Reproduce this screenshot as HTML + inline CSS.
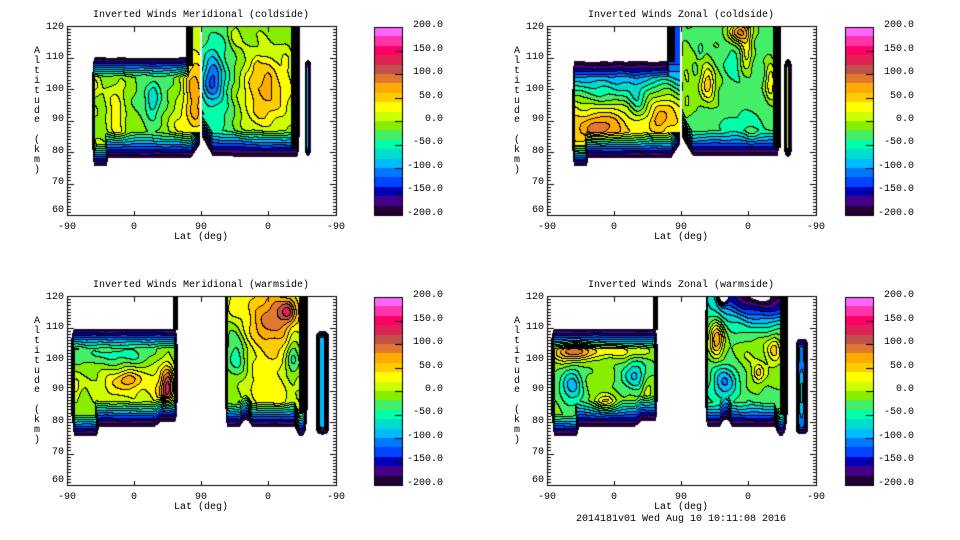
<!DOCTYPE html>
<html><head><meta charset="utf-8">
<style>
body{margin:0;background:#fff;}
#wrap{position:relative;width:960px;height:540px;overflow:hidden;background:#fff;font-family:"Liberation Mono","DejaVu Sans Mono",monospace;font-size:10px;color:#000;}
canvas{position:absolute;left:0;top:0;}
.t{position:absolute;line-height:10px;white-space:pre;}
.c{width:300px;text-align:center;}
.r{width:60px;text-align:right;}
.x{width:40px;text-align:center;}
.yl{position:absolute;width:10px;text-align:center;line-height:9.92px;}
</style></head><body><div id="wrap"><canvas id="cv" width="960" height="540"></canvas>

<!-- TL -->
<div class="t c" style="left:51px;top:11px">Inverted Winds Meridional (coldside)</div>
<div class="t r" style="left:4px;top:23px">120</div>
<div class="t r" style="left:4px;top:53px">110</div>
<div class="t r" style="left:4px;top:85px">100</div>
<div class="t r" style="left:4px;top:115px">90</div>
<div class="t r" style="left:4px;top:147px">80</div>
<div class="t r" style="left:4px;top:178px">70</div>
<div class="t r" style="left:4px;top:206px">60</div>
<div class="t x" style="left:47px;top:223px">-90</div>
<div class="t x" style="left:114px;top:223px">0</div>
<div class="t x" style="left:181px;top:223px">90</div>
<div class="t x" style="left:248px;top:223px">0</div>
<div class="t x" style="left:316px;top:223px">-90</div>
<div class="t c" style="left:51px;top:233px">Lat (deg)</div>
<div class="yl" style="left:32px;top:47px">A<br>l<br>t<br>i<br>t<br>u<br>d<br>e<br>&nbsp;<br>(<br>k<br>m<br>)</div>
<div class="t r" style="left:383px;top:21px">200.0</div>
<div class="t r" style="left:383px;top:45px">150.0</div>
<div class="t r" style="left:383px;top:68px">100.0</div>
<div class="t r" style="left:383px;top:92px">50.0</div>
<div class="t r" style="left:383px;top:115px">0.0</div>
<div class="t r" style="left:383px;top:138px">-50.0</div>
<div class="t r" style="left:383px;top:162px">-100.0</div>
<div class="t r" style="left:383px;top:185px">-150.0</div>
<div class="t r" style="left:383px;top:209px">-200.0</div>

<!-- TR -->
<div class="t c" style="left:531px;top:11px">Inverted Winds Zonal (coldside)</div>
<div class="t r" style="left:484px;top:23px">120</div>
<div class="t r" style="left:484px;top:53px">110</div>
<div class="t r" style="left:484px;top:85px">100</div>
<div class="t r" style="left:484px;top:115px">90</div>
<div class="t r" style="left:484px;top:147px">80</div>
<div class="t r" style="left:484px;top:178px">70</div>
<div class="t r" style="left:484px;top:206px">60</div>
<div class="t x" style="left:527px;top:223px">-90</div>
<div class="t x" style="left:594px;top:223px">0</div>
<div class="t x" style="left:661px;top:223px">90</div>
<div class="t x" style="left:728px;top:223px">0</div>
<div class="t x" style="left:796px;top:223px">-90</div>
<div class="t c" style="left:531px;top:233px">Lat (deg)</div>
<div class="yl" style="left:512px;top:47px">A<br>l<br>t<br>i<br>t<br>u<br>d<br>e<br>&nbsp;<br>(<br>k<br>m<br>)</div>
<div class="t r" style="left:854px;top:21px">200.0</div>
<div class="t r" style="left:854px;top:45px">150.0</div>
<div class="t r" style="left:854px;top:68px">100.0</div>
<div class="t r" style="left:854px;top:92px">50.0</div>
<div class="t r" style="left:854px;top:115px">0.0</div>
<div class="t r" style="left:854px;top:138px">-50.0</div>
<div class="t r" style="left:854px;top:162px">-100.0</div>
<div class="t r" style="left:854px;top:185px">-150.0</div>
<div class="t r" style="left:854px;top:209px">-200.0</div>

<!-- BL -->
<div class="t c" style="left:51px;top:281px">Inverted Winds Meridional (warmside)</div>
<div class="t r" style="left:4px;top:293px">120</div>
<div class="t r" style="left:4px;top:323px">110</div>
<div class="t r" style="left:4px;top:355px">100</div>
<div class="t r" style="left:4px;top:385px">90</div>
<div class="t r" style="left:4px;top:417px">80</div>
<div class="t r" style="left:4px;top:448px">70</div>
<div class="t r" style="left:4px;top:476px">60</div>
<div class="t x" style="left:47px;top:493px">-90</div>
<div class="t x" style="left:114px;top:493px">0</div>
<div class="t x" style="left:181px;top:493px">90</div>
<div class="t x" style="left:248px;top:493px">0</div>
<div class="t x" style="left:316px;top:493px">-90</div>
<div class="t c" style="left:51px;top:503px">Lat (deg)</div>
<div class="yl" style="left:32px;top:317px">A<br>l<br>t<br>i<br>t<br>u<br>d<br>e<br>&nbsp;<br>(<br>k<br>m<br>)</div>
<div class="t r" style="left:383px;top:291px">200.0</div>
<div class="t r" style="left:383px;top:315px">150.0</div>
<div class="t r" style="left:383px;top:338px">100.0</div>
<div class="t r" style="left:383px;top:362px">50.0</div>
<div class="t r" style="left:383px;top:385px">0.0</div>
<div class="t r" style="left:383px;top:408px">-50.0</div>
<div class="t r" style="left:383px;top:432px">-100.0</div>
<div class="t r" style="left:383px;top:455px">-150.0</div>
<div class="t r" style="left:383px;top:479px">-200.0</div>

<!-- BR -->
<div class="t c" style="left:531px;top:281px">Inverted Winds Zonal (warmside)</div>
<div class="t r" style="left:484px;top:293px">120</div>
<div class="t r" style="left:484px;top:323px">110</div>
<div class="t r" style="left:484px;top:355px">100</div>
<div class="t r" style="left:484px;top:385px">90</div>
<div class="t r" style="left:484px;top:417px">80</div>
<div class="t r" style="left:484px;top:448px">70</div>
<div class="t r" style="left:484px;top:476px">60</div>
<div class="t x" style="left:527px;top:493px">-90</div>
<div class="t x" style="left:594px;top:493px">0</div>
<div class="t x" style="left:661px;top:493px">90</div>
<div class="t x" style="left:728px;top:493px">0</div>
<div class="t x" style="left:796px;top:493px">-90</div>
<div class="t c" style="left:531px;top:503px">Lat (deg)</div>
<div class="yl" style="left:512px;top:317px">A<br>l<br>t<br>i<br>t<br>u<br>d<br>e<br>&nbsp;<br>(<br>k<br>m<br>)</div>
<div class="t r" style="left:854px;top:291px">200.0</div>
<div class="t r" style="left:854px;top:315px">150.0</div>
<div class="t r" style="left:854px;top:338px">100.0</div>
<div class="t r" style="left:854px;top:362px">50.0</div>
<div class="t r" style="left:854px;top:385px">0.0</div>
<div class="t r" style="left:854px;top:408px">-50.0</div>
<div class="t r" style="left:854px;top:432px">-100.0</div>
<div class="t r" style="left:854px;top:455px">-150.0</div>
<div class="t r" style="left:854px;top:479px">-200.0</div>

<div class="t c" style="left:531px;top:515px">2014181v01 Wed Aug 10 10:11:08 2016</div>
</div>
<script>
(function(){
const cv=document.getElementById('cv');const ctx=cv.getContext('2d');
ctx.fillStyle='#fff';ctx.fillRect(0,0,960,540);
const COL=[[255,102,255],[255,51,170],[255,0,102],[221,34,85],[192,80,74],[224,120,48],[255,170,0],[255,204,0],[255,255,0],[204,255,0],[136,238,0],[68,238,102],[0,255,170],[0,221,204],[0,187,255],[0,119,255],[0,68,255],[0,0,187],[68,0,136],[34,0,51]];
function G(p,a,cx,ca,sx,sa,A){const dx=(p-cx)/sx,da=(a-ca)/sa;return A*Math.exp(-0.5*(dx*dx+da*da));}
function bump(p,c,w){const t=(p-c)/w;return Math.max(0,1-t*t);}
function N(p,a,s){return 0.5*(7*Math.sin(0.2*p+0.7*a+s)+6*Math.sin(0.11*p-0.5*a+1.3+s)+4*Math.sin(0.3*p+0.25*a+2.1+s*0.5));}

function fTL(p,a){let v;
 if(p<134){v=-6;
  v+=G(p,a,50,92,6,6,42);
  v+=G(p,a,28,101,4,2.5,35);
  v+=G(p,a,88,97,16,8,-32);
  v+=G(p,a,86,96,4,3.5,-45);
  v+=G(p,a,128,98,8,10,80);
  v+=G(p,a,108,90,8,4,30);
  v+=G(p,a,15,88,8,4,10);
 }else{v=-15;
  v+=G(p,a,145,103,7,5,-70);
  v+=G(p,a,150,102,14,14,-45);
  v+=G(p,a,198,99,18,9,78);
  v+=G(p,a,190,107,3,2,25);
  v+=G(p,a,201,102,3,2,25);
  v+=G(p,a,168,117,5,3,35);
  v+=G(p,a,185,83,40,2.5,-15);
  v+=G(p,a,220,105,4,8,15);
 }return v+N(p,a,0);}

function prof(a){const P=[[130,-130],[108,-130],[104,-100],[100,-60],[97,-35],[94,-5],[90,15],[86,20],[70,0]];
 for(let i=0;i<P.length-1;i++){if(a<=P[i][0]&&a>=P[i+1][0]){const t=(a-P[i+1][0])/(P[i][0]-P[i+1][0]);return P[i+1][1]+t*(P[i][1]-P[i+1][1]);}}
 return a>130?-130:0;}
function fTR(p,a){let v;
 if(p<134){v=prof(a);
  v+=G(p,a,55,88,22,4.5,55);
  v+=G(p,a,52,87,12,2.2,20);
  v+=G(p,a,118,95,12,6,55);
  v+=G(p,a,112,90,4,2,20);
  v+=G(p,a,90,95,6,3.5,-40);
  v+=G(p,a,28,96,6,4,20);
 }else{v=-30;
  v+=G(p,a,194,118,8,2.5,110);
  v+=G(p,a,200,111,4,4,55);
  v+=G(p,a,161,102,5,4,60);
  v+=G(p,a,160,100,12,8,20);
  v+=G(p,a,185,107,6,3,-30);
  v+=G(p,a,154,112,2.5,2,-25);
  v+=G(p,a,190,88,35,4,-18);
  v+=G(p,a,205,85,4,2,25);
  v+=G(p,a,224,102,4,5,60);
  v+=G(p,a,140,100,4,14,25);
 }return v+N(p,a,1.3);}

function fBL(p,a){let v;
 if(p<134){v=-10;
  v+=G(p,a,9,91,4,2.5,40);
  v+=G(p,a,60,92,22,4,50);
  v+=G(p,a,62,93.5,8,1.5,35);
  v+=G(p,a,101,90.5,4.5,4.5,95);
  v+=G(p,a,98,91,9,7,40);
  v+=G(p,a,50,101,30,2.5,-40);
  v+=G(p,a,60,85,20,1.5,10);
 }else{v=-5;
  v+=G(p,a,205,112,22,9,85);
  v+=G(p,a,212,115,10,4,20);
  v+=G(p,a,222,115,5,2.5,60);
  v+=G(p,a,170,102,8,6,-55);
  v+=G(p,a,226,101,5,5,-60);
  v+=G(p,a,200,90,18,5,35);
  v+=G(p,a,212,86,5,2,20);
  v+=G(p,a,168,117,6,3,25);
 }return v+N(p,a,2.6);}

function fBR(p,a){let v;
 if(p<134){v=-15;
  v+=G(p,a,25,102,14,2.2,85);
  v+=G(p,a,22,102.5,6,1.2,15);
  v+=G(p,a,65,102.3,25,1.5,50);
  v+=G(p,a,25,91,8,4,-75);
  v+=G(p,a,88,94.5,9,3.5,-65);
  v+=G(p,a,58,85.5,7,2.2,70);
  v+=G(p,a,100,89,4,3,35);
 }else{v=-20;
  v+=G(p,a,170,106,5,4,100);
  v+=G(p,a,178,93,10,4,-80);
  v+=G(p,a,212,95.5,4,2,55);
  v+=G(p,a,228,103,5,3,65);
  v+=G(p,a,210,101,18,6,20);
  v+=G(p,a,215,122,32,7,-205);
  v+=G(p,a,176.5,121,3,2,-260);
  v+=G(p,a,200,86,30,2.5,-15);
 }return v+N(p,a,4.1);}

function topRects(bf){return [
 {r:[25,133,111,p=>76.8+Math.max(0,p-124)*0.5,3,0.3,7.5,9.5]},
 {r:[25,42,100,74.4,3,3,5,8]},
 {r:[119,133,130,82,3,0.3,5,4]},
 {r:[135,233,130,p=>77.2+Math.max(0,146-p)*0.55,0.3,3,5,9.5]},
 {r:[236.5,245.5,109.8,78.2,4.5,4.5,3,3],f:bf}
];}
const bLeft=p=>77.2+1.7*Math.min(1,Math.max(0,(p-88)/6));
const bR=p=>77.2+2.2*bump(p,179,6)-3*bump(p,234,6);
function botRects(blob){return [
 {r:[3,111,110.5,bLeft,5,3,7.5,9.5]},
 {r:[5,33,100,74.4,3,4,5,8]},
 {r:[158,241,130,bR,3,3,5,9]},
 blob
];}

function panel(ox,oy,rects,field){
 const W=268,H=188;
 const img=ctx.createImageData(W,H),d=img.data;
 const B=new Int8Array(W*H);
 for(let j=0;j<H;j++){const a=120-(j+1.5)/3.15;
  for(let i=0;i<W;i++){const p=i+1.5;let v=-999,f=null;
   for(const R of rects){const r=R.r;const bb=(typeof r[3]==='function')?r[3](p):r[3];
    if(p<r[0]||p>r[1]||a>r[2]||a<bb)continue;
    let fv;
    if(R.f)fv=R.f(p,a);else{if(f===null)f=field(p,a);fv=f;}
    const dx=Math.min((p-r[0])/r[4],(r[1]-p)/r[5]),dy=Math.min((r[2]-a)/r[6],(a-bb)/r[7]);
    const ux=Math.max(0,1-dx),uy=Math.max(0,1-dy);
    const e=Math.max(0,1-Math.sqrt(ux*ux+uy*uy));
    const val=-230+(fv+230)*e;if(val>v)v=val;}
   let b=-1;if(v>=-200){b=Math.floor((200-v)/20);if(b<0)b=0;if(b>19)b=19;}
   B[j*W+i]=b;}}
 for(let j=0;j<H;j++)for(let i=0;i<W;i++){const b=B[j*W+i];const k=(j*W+i)*4;let c;
  if(b<0)c=[255,255,255];
  else{const br=i<W-1?B[j*W+i+1]:b,bd=j<H-1?B[(j+1)*W+i]:b;
   if((br>=0&&br!==b)||(bd>=0&&bd!==b))c=[0,0,0];else c=COL[b];}
  d[k]=c[0];d[k+1]=c[1];d[k+2]=c[2];d[k+3]=255;}
 ctx.putImageData(img,ox+68,oy+27);
}
function frame(ox,oy){
 ctx.fillStyle='#000';
 ctx.fillRect(ox+67,oy+26,270,1);ctx.fillRect(ox+67,oy+215,270,1);
 ctx.fillRect(ox+67,oy+26,1,190);ctx.fillRect(ox+336,oy+26,1,190);
 for(let A=60;A<=120;A++){const y=Math.round(oy+26+(120-A)*3.15);const L=(A%10===0)?6:3;
  ctx.fillRect(ox+68,y,L,1);ctx.fillRect(ox+336-L,y,L,1);}
 for(const x of [134,201,268]){ctx.fillRect(ox+x,oy+27,1,5);ctx.fillRect(ox+x,oy+211,1,4);}
}
function cbar(x,y){
 for(let k=0;k<20;k++){const c=COL[k];ctx.fillStyle='rgb('+c[0]+','+c[1]+','+c[2]+')';
  const y0=Math.round(y+k*9.4),y1=Math.round(y+(k+1)*9.4);ctx.fillRect(x,y0,28,y1-y0);}
 ctx.fillStyle='#000';
 ctx.fillRect(x,y,29,1);ctx.fillRect(x,y+188,29,1);ctx.fillRect(x,y,1,189);ctx.fillRect(x+28,y,1,189);
 for(let k=1;k<8;k++){const yy=Math.round(y+k*23.5);ctx.fillRect(x+21,yy,7,1);}
}

panel(0,0,topRects((p,a)=>-100+25*Math.exp(-0.5*((p-241)/1.2)**2)),fTL);
panel(480,0,topRects((p,a)=>30),fTR);
panel(0,270,botRects({r:[247,264,109.5,75.4,6,6,3,3],f:(p,a)=>-118+36*Math.exp(-0.5*((p-255.5)/1.8)**2)}),fBL);
panel(480,270,botRects({r:[247,263,107.5,75.3,6,6,4,3],f:(p,a)=>-112+40*Math.exp(-0.5*((p-255)/1.8)**2)*Math.exp(-0.5*((a-89)/5)**2)}),fBR);

ctx.fillStyle='#000';
ctx.fillRect(186,27,7,39);ctx.fillRect(291,27,8,122);
ctx.fillRect(667,27,8,35);ctx.fillRect(773,27,8,121);
ctx.fillRect(173,297,5,33);ctx.fillRect(299,297,8,116);
ctx.fillRect(653,297,5,33);ctx.fillRect(780,297,8,118);

frame(0,0);frame(480,0);frame(0,270);frame(480,270);
cbar(374,27);cbar(845,27);cbar(374,297);cbar(845,297);
})();
</script>
</body></html>
